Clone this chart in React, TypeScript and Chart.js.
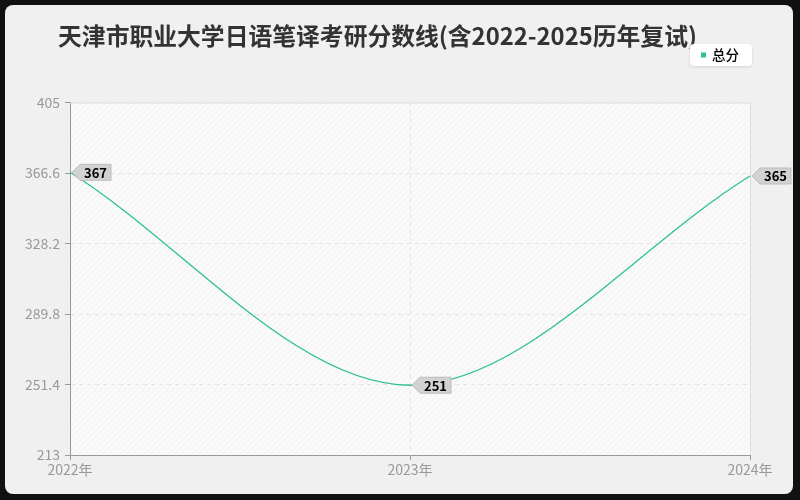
import React, { useEffect, useRef } from 'react';
import { Chart, registerables } from 'chart.js';

Chart.register(...registerables);

const years = ['2022年', '2023年', '2024年'];
const totalScores = [367, 251, 365];
const yTicks = [213, 251.4, 289.8, 328.2, 366.6, 405];
const seriesName = '总分';
const chartTitle = '天津市职业大学日语笔译考研分数线(含2022-2025历年复试)';

const lineColor = '#2dc28b';
const fontFamily = '"Noto Sans CJK SC", "Noto Sans", sans-serif';

// hatched plot background + light frame on top/right
const plotBackground = {
  id: 'plotBackground',
  beforeDraw(chart: any) {
    const { ctx, chartArea: a } = chart;
    ctx.save();
    ctx.beginPath();
    ctx.rect(a.left, a.top, a.right - a.left, a.bottom - a.top);
    ctx.clip();
    ctx.fillStyle = '#fafafa';
    ctx.fillRect(a.left, a.top, a.right - a.left, a.bottom - a.top);
    ctx.strokeStyle = '#efefef';
    ctx.lineWidth = 1;
    const h = a.bottom - a.top;
    ctx.beginPath();
    for (let k = a.left - h; k < a.right; k += 6) {
      ctx.moveTo(k, a.bottom);
      ctx.lineTo(k + h, a.top);
    }
    ctx.stroke();
    ctx.restore();
  },
  beforeDatasetsDraw(chart: any) {
    const { ctx, chartArea: a } = chart;
    ctx.save();
    ctx.strokeStyle = '#dddddd';
    ctx.lineWidth = 1;
    ctx.beginPath();
    ctx.moveTo(a.left, a.top + 0.5);
    ctx.lineTo(a.right + 0.5, a.top + 0.5);
    ctx.lineTo(a.right + 0.5, a.bottom);
    ctx.stroke();
    ctx.restore();
  },
};

// value tags with a left pointing arrow
const valueTags = {
  id: 'valueTags',
  afterDatasetsDraw(chart: any) {
    const { ctx } = chart;
    const meta = chart.getDatasetMeta(0);
    const data = chart.data.datasets[0].data;
    ctx.save();
    ctx.font = `bold 13px ${fontFamily}`;
    meta.data.forEach((pt: any, i: number) => {
      const text = String(data[i]);
      const tw = ctx.measureText(text).width;
      const x = pt.x;
      const y = pt.y;
      const bx = x + 10;
      const w = tw + 8;
      ctx.beginPath();
      ctx.moveTo(x + 2, y);
      ctx.lineTo(bx, y - 8);
      ctx.lineTo(bx + w, y - 8);
      ctx.lineTo(bx + w, y + 8);
      ctx.lineTo(bx, y + 8);
      ctx.closePath();
      ctx.fillStyle = '#d2d2d2';
      ctx.fill();
      ctx.strokeStyle = '#bdbdbd';
      ctx.lineWidth = 1;
      ctx.stroke();
      ctx.fillStyle = '#000';
      ctx.textAlign = 'left';
      ctx.textBaseline = 'middle';
      ctx.fillText(text, bx + 4, y + 0.5);
    });
    ctx.restore();
  },
};

// legend box in the top right
const legendBox = {
  id: 'legendBox',
  afterDraw(chart: any) {
    const { ctx } = chart;
    const x = 685;
    const y = 39;
    const w = 62;
    const h = 22;
    ctx.save();
    ctx.shadowColor = 'rgba(0,0,0,0.12)';
    ctx.shadowBlur = 3;
    ctx.shadowOffsetY = 1;
    ctx.fillStyle = '#ffffff';
    ctx.beginPath();
    ctx.roundRect(x, y, w, h, 4);
    ctx.fill();
    ctx.restore();
    ctx.save();
    ctx.fillStyle = lineColor;
    ctx.fillRect(x + 11, y + 8.5, 5, 5);
    ctx.fillStyle = '#000';
    ctx.font = `500 13.5px ${fontFamily}`;
    ctx.textAlign = 'left';
    ctx.textBaseline = 'middle';
    ctx.fillText(seriesName, x + 22, y + 11);
    ctx.restore();
  },
};

const ScoreChart: React.FC = () => {
  const chartRef = useRef<HTMLCanvasElement | null>(null);
  const chartInstance = useRef<Chart | null>(null);

  useEffect(() => {
    if (!chartRef.current) return;
    if (chartInstance.current) chartInstance.current.destroy();

    const ctx = chartRef.current.getContext('2d');
    if (!ctx) return;

    chartInstance.current = new Chart(ctx, {
      type: 'line',
      data: {
        labels: years,
        datasets: [
          {
            label: seriesName,
            data: totalScores,
            borderColor: lineColor,
            backgroundColor: lineColor,
            borderWidth: 1.3,
            pointRadius: 0,
            cubicInterpolationMode: 'monotone',
            fill: false,
          },
        ],
      },
      options: {
        responsive: true,
        maintainAspectRatio: false,
        animation: false,
        layout: { padding: { left: 0, right: 43, top: 0, bottom: 0 } },
        plugins: {
          legend: { display: false },
          tooltip: { enabled: false },
          title: {
            display: true,
            text: chartTitle,
            color: '#333',
            font: { family: fontFamily, size: 23.8, weight: 'bold' },
            padding: { top: 17, bottom: 52 },
          },
        },
        scales: {
          x: {
            offset: false,
            afterFit: (scale: any) => {
              scale.height = 39;
            },
            grid: {
              color: '#e4e4e4',
              tickColor: '#999',
              tickLength: 5,
            },
            border: { color: '#999', width: 1, dash: [4, 4] },
            ticks: {
              color: '#999',
              padding: 1,
              maxRotation: 0,
              font: { family: fontFamily, size: 14 },
            },
          },
          y: {
            min: 213,
            max: 405,
            afterFit: (scale: any) => {
              scale.width = 65;
            },
            afterBuildTicks: (scale: any) => {
              scale.ticks = yTicks.map((v) => ({ value: v }));
            },
            grid: {
              color: '#e4e4e4',
              tickColor: '#999',
              tickLength: 5,
            },
            border: { color: '#999', width: 1, dash: [4, 4] },
            ticks: {
              color: '#999',
              padding: 5,
              font: { family: fontFamily, size: 14 },
              callback: (value: any) => String(value),
            },
          },
        },
      },
      plugins: [plotBackground, valueTags, legendBox],
    });

    return () => {
      if (chartInstance.current) {
        chartInstance.current.destroy();
        chartInstance.current = null;
      }
    };
  }, []);

  return (
    <div
      style={{
        position: 'fixed',
        left: 0,
        top: 0,
        width: 800,
        height: 500,
        background: '#111',
      }}
    >
      <div
        style={{
          position: 'absolute',
          left: 5,
          top: 5,
          width: 788,
          height: 489,
          background: '#f0f0f0',
          borderRadius: 8,
          overflow: 'hidden',
        }}
      >
        <canvas ref={chartRef}></canvas>
      </div>
    </div>
  );
};

export default function App() {
  return <ScoreChart />;
}
